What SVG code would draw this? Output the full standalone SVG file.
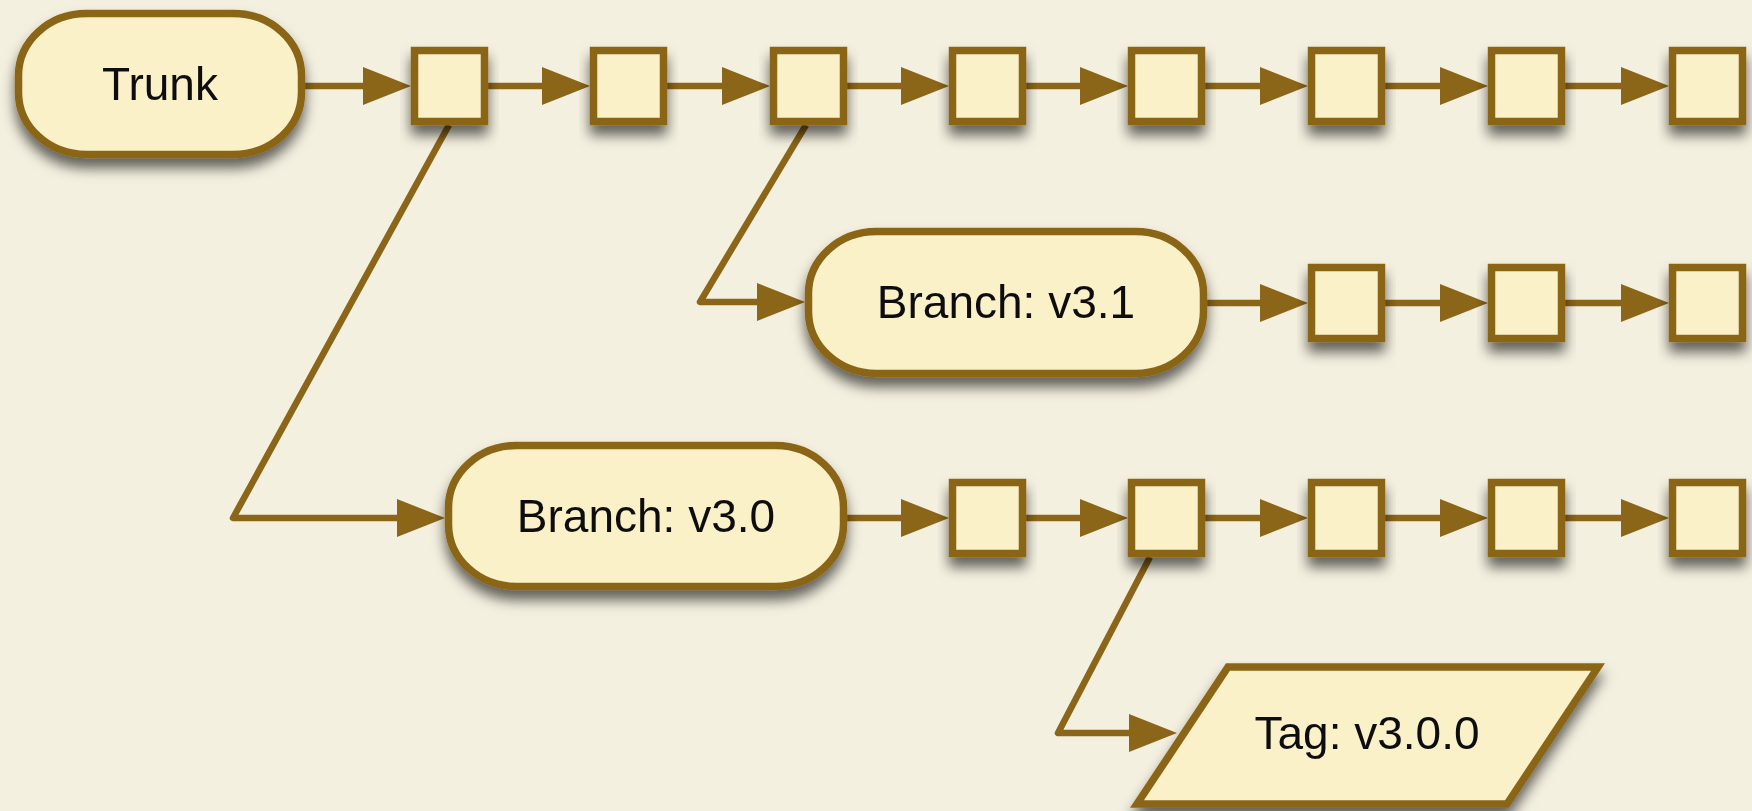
<svg xmlns="http://www.w3.org/2000/svg" width="1752" height="811" viewBox="0 0 1752 811">
  <defs>
    <style>
      .node { fill: #fbf1c9; stroke: #8b6518; stroke-width: 7.5; }
      .lbl { font-family: "Liberation Sans", Arial, sans-serif; font-size: 46px; fill: #111; text-anchor: middle; }
      .conn { fill: none; stroke: #8b6518; stroke-width: 6.5; stroke-linejoin: round; }
    </style>
    <filter id="shadow" x="-20%" y="-20%" width="140%" height="160%">
      <feDropShadow dx="0" dy="10" stdDeviation="6.5" flood-color="#000" flood-opacity="0.6"/>
    </filter>
    <marker id="arrow" markerUnits="userSpaceOnUse" markerWidth="48" markerHeight="40" refX="0" refY="19" orient="auto">
      <path d="M0,0 L48,19 L0,38 Z" fill="#8b6518"/>
    </marker>
  </defs>
  <rect x="0" y="0" width="1752" height="811" fill="#f4f0e0"/>

  <g id="connectors">
    <path class="conn" marker-end="url(#arrow)" d="M305,86 H363"/>
    <path class="conn" marker-end="url(#arrow)" d="M488,86 H542"/>
    <path class="conn" marker-end="url(#arrow)" d="M667,86 H722"/>
    <path class="conn" marker-end="url(#arrow)" d="M847,86 H901"/>
    <path class="conn" marker-end="url(#arrow)" d="M1026,86 H1080"/>
    <path class="conn" marker-end="url(#arrow)" d="M1205,86 H1260"/>
    <path class="conn" marker-end="url(#arrow)" d="M1385,86 H1440"/>
    <path class="conn" marker-end="url(#arrow)" d="M1565,86 H1621"/>
    <path class="conn" marker-end="url(#arrow)" d="M449,125 L233,518 H397"/>
    <path class="conn" marker-end="url(#arrow)" d="M806,125 L700,302 H757"/>
    <path class="conn" marker-end="url(#arrow)" d="M1207,303 H1260"/>
    <path class="conn" marker-end="url(#arrow)" d="M1385,303 H1440"/>
    <path class="conn" marker-end="url(#arrow)" d="M1565,303 H1621"/>
    <path class="conn" marker-end="url(#arrow)" d="M847,518 H901"/>
    <path class="conn" marker-end="url(#arrow)" d="M1026,518 H1080"/>
    <path class="conn" marker-end="url(#arrow)" d="M1205,518 H1260"/>
    <path class="conn" marker-end="url(#arrow)" d="M1385,518 H1440"/>
    <path class="conn" marker-end="url(#arrow)" d="M1565,518 H1621"/>
    <path class="conn" marker-end="url(#arrow)" d="M1150,557 L1058,733 H1129"/>
  </g>

  <g id="trunk" filter="url(#shadow)">
    <rect class="node" x="18.5" y="13.5" width="283" height="141" rx="68" ry="62"/>
    <text class="lbl" x="160" y="100">Trunk</text>
  </g>

  <g id="t1" filter="url(#shadow)"><rect class="node" x="414.5" y="50.5" width="70" height="71"/></g>
  <g id="t2" filter="url(#shadow)"><rect class="node" x="593.5" y="50.5" width="70" height="71"/></g>
  <g id="t3" filter="url(#shadow)"><rect class="node" x="773.5" y="50.5" width="70" height="71"/></g>
  <g id="t4" filter="url(#shadow)"><rect class="node" x="952.5" y="50.5" width="70" height="71"/></g>
  <g id="t5" filter="url(#shadow)"><rect class="node" x="1131.5" y="50.5" width="70" height="71"/></g>
  <g id="t6" filter="url(#shadow)"><rect class="node" x="1311.5" y="50.5" width="70" height="71"/></g>
  <g id="t7" filter="url(#shadow)"><rect class="node" x="1491.5" y="50.5" width="70" height="71"/></g>
  <g id="t8" filter="url(#shadow)"><rect class="node" x="1672.5" y="50.5" width="70" height="71"/></g>

  <g id="branch-v31" filter="url(#shadow)">
    <rect class="node" x="808.5" y="231.5" width="395" height="142" rx="68" ry="62"/>
    <text class="lbl" x="1006" y="318">Branch: v3.1</text>
  </g>
  <g id="b31-1" filter="url(#shadow)"><rect class="node" x="1311.5" y="267.5" width="70" height="71"/></g>
  <g id="b31-2" filter="url(#shadow)"><rect class="node" x="1491.5" y="267.5" width="70" height="71"/></g>
  <g id="b31-3" filter="url(#shadow)"><rect class="node" x="1672.5" y="267.5" width="70" height="71"/></g>

  <g id="branch-v30" filter="url(#shadow)">
    <rect class="node" x="448.5" y="445.5" width="395" height="141" rx="68" ry="62"/>
    <text class="lbl" x="646" y="532">Branch: v3.0</text>
  </g>
  <g id="b30-1" filter="url(#shadow)"><rect class="node" x="952.5" y="482.5" width="70" height="71"/></g>
  <g id="b30-2" filter="url(#shadow)"><rect class="node" x="1131.5" y="482.5" width="70" height="71"/></g>
  <g id="b30-3" filter="url(#shadow)"><rect class="node" x="1311.5" y="482.5" width="70" height="71"/></g>
  <g id="b30-4" filter="url(#shadow)"><rect class="node" x="1491.5" y="482.5" width="70" height="71"/></g>
  <g id="b30-5" filter="url(#shadow)"><rect class="node" x="1672.5" y="482.5" width="70" height="71"/></g>

  <g id="tag-v300" filter="url(#shadow)">
    <polygon class="node" points="1228,667 1598,667 1507,804 1137,804"/>
    <text class="lbl" x="1367" y="749">Tag: v3.0.0</text>
  </g>
</svg>
